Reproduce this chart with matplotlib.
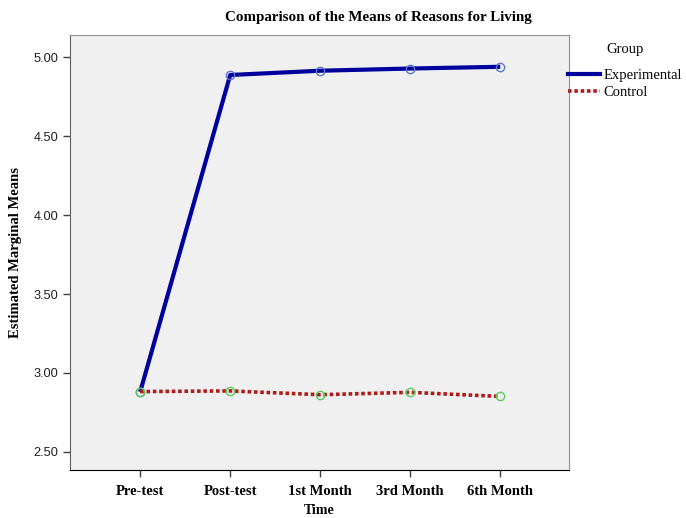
import matplotlib.pyplot as plt
from matplotlib.lines import Line2D

times = ['Pre-test', 'Post-test', '1st Month', '3rd Month', '6th Month']
experimental = [2.88, 4.888, 4.915, 4.929, 4.940]
control = [2.882, 2.886, 2.862, 2.877, 2.851]
yticks = [2.50, 3.00, 3.50, 4.00, 4.50, 5.00]

serif = 'Liberation Serif'
sans = 'Liberation Sans'

fig = plt.figure(figsize=(6.86, 5.18), dpi=100)
ax = fig.add_axes([0.102, 0.093, 0.727, 0.839])
ax.set_facecolor('#f0f0f0')

x = list(range(len(times)))
ax.plot(x, experimental, color='#00009c', lw=3.0, solid_capstyle='butt', zorder=3)
ax.plot(x, experimental, 'o', ms=6, mfc='none', mec='#5a78d0', mew=1.0, zorder=4)
ax.plot(x, control, color='#b01c1c', lw=2.6, ls=(0, (1.0, 0.75)), zorder=3)
ax.plot(x, control, 'o', ms=6, mfc='none', mec='#5ccc5c', mew=1.0, zorder=4)

ax.set_xlim(-0.78, 4.76)
ax.set_ylim(2.386, 5.14)
ax.set_xticks(x)
ax.set_xticklabels(times, fontfamily=serif, fontweight='bold', fontsize=10.5)
ax.set_yticks(yticks)
ax.set_yticklabels(['%.2f' % v for v in yticks], fontfamily=sans, fontsize=9.2, color='#202020')
ax.tick_params(axis='both', direction='out', length=5, width=1, color='#404040')
ax.tick_params(axis='x', pad=6)
for s in ['top', 'right']:
    ax.spines[s].set_color('#909090')
ax.spines['left'].set_color('#606060')
ax.spines['bottom'].set_color('#000000')

ax.set_xlabel('Time', fontfamily=serif, fontweight='bold', fontsize=10, labelpad=4)
ax.set_ylabel('Estimated Marginal Means', fontfamily=serif, fontweight='bold', fontsize=10.5, labelpad=8)

fig.text(0.551, 0.967, 'Comparison of the Means of Reasons for Living', ha='center', va='center',
         fontfamily=serif, fontweight='bold', fontsize=10.8)

# legend outside to the right
handles = [Line2D([], [], color='#00009c', lw=3.0),
           Line2D([], [], color='#b01c1c', lw=2.6, ls=(0, (1.0, 0.75)))]
leg = ax.legend(handles, ['Experimental', 'Control'], loc='upper left', bbox_to_anchor=(0.999, 0.982),
                frameon=False, title='Group', handlelength=2.2, handletextpad=0.2, labelspacing=0.3,
                borderaxespad=0, borderpad=0,
                prop={'family': serif, 'size': 10.5})
leg.get_title().set_fontfamily(serif)
leg.get_title().set_fontsize(10.5)
leg._legend_box.align = 'center'
leg._legend_box.sep = 9

fig.savefig('out.png', dpi=100)
